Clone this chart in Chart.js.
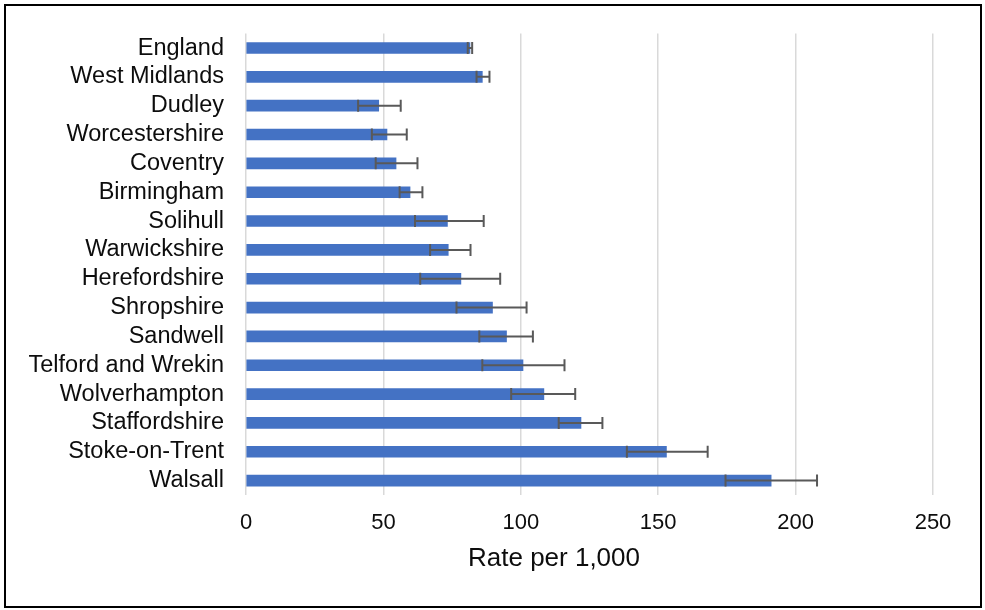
<!DOCTYPE html>
<html>
<head>
    <title>Rate per 1,000 - West Midlands</title>
    <script src="https://cdn.jsdelivr.net/npm/chart.js@4.4.1/dist/chart.umd.min.js"></script>
    <style>
        body {
            margin: 0;
            background: #FFFFFF;
            font-family: "Liberation Sans", Arial, sans-serif;
        }
        #frame {
            position: absolute;
            left: 4px;
            top: 4px;
            width: 978px;
            height: 604px;
            border: 2px solid #000;
            box-sizing: border-box;
        }
        #chart {
            position: absolute;
            left: 0;
            top: 0;
        }
    </style>
</head>
<body>
    <div id="frame"></div>
    <canvas id="chart" width="985" height="610"></canvas>

<script type="text/javascript">
    const areas = ['England', 'West Midlands', 'Dudley', 'Worcestershire', 'Coventry', 'Birmingham',
        'Solihull', 'Warwickshire', 'Herefordshire', 'Shropshire', 'Sandwell', 'Telford and Wrekin',
        'Wolverhampton', 'Staffordshire', 'Stoke-on-Trent', 'Walsall'];
    const rates = [81.5, 86.0, 48.3, 51.3, 54.6, 59.7, 73.3, 73.6, 78.2, 89.7, 94.8, 100.8, 108.4, 121.9, 153.0, 191.1];
    const lowerCI = [80.7, 83.9, 40.8, 45.8, 47.2, 55.9, 61.5, 67.0, 63.4, 76.6, 84.9, 86.0, 96.5, 113.8, 138.6, 174.5];
    const upperCI = [82.3, 88.6, 56.3, 58.5, 62.4, 64.2, 86.5, 81.7, 92.5, 102.1, 104.4, 115.9, 119.8, 129.7, 168.0, 207.8];
    const xTicks = [0, 50, 100, 150, 200, 250];
    const xTitle = 'Rate per 1,000';

    const FONT = '"Liberation Sans", Arial, sans-serif';

    // whiskers for the confidence intervals
    const errorBars = {
        id: 'errorBars',
        afterDatasetsDraw(chart) {
            const ctx = chart.ctx;
            const x = chart.scales.x;
            const meta = chart.getDatasetMeta(0);
            ctx.save();
            ctx.strokeStyle = '#595959';
            ctx.lineWidth = 2;
            meta.data.forEach((bar, i) => {
                let x1 = x.getPixelForValue(lowerCI[i]);
                let x2 = x.getPixelForValue(upperCI[i]);
                let y = bar.y;
                ctx.beginPath();
                ctx.moveTo(x1, y);
                ctx.lineTo(x2, y);
                ctx.moveTo(x1, y - 6);
                ctx.lineTo(x1, y + 6);
                ctx.moveTo(x2, y - 6);
                ctx.lineTo(x2, y + 6);
                ctx.stroke();
            });
            ctx.restore();
        }
    };

    // axis title sits left of the plot centre in the original
    const axisTitle = {
        id: 'axisTitle',
        afterDraw(chart) {
            const ctx = chart.ctx;
            ctx.save();
            ctx.font = '26px ' + FONT;
            ctx.fillStyle = '#0d0d0d';
            ctx.textAlign = 'center';
            ctx.textBaseline = 'middle';
            ctx.fillText(xTitle, 554, 559);
            ctx.restore();
        }
    };

    let chart = new Chart(document.getElementById('chart').getContext('2d'), {
        type: 'bar',
        data: {
            labels: areas,
            datasets: [{
                data: rates,
                backgroundColor: '#4472C4',
                barThickness: 11
            }]
        },
        plugins: [errorBars, axisTitle],
        options: {
            responsive: false,
            animation: false,
            indexAxis: 'y',
            layout: { padding: { top: 33.6, right: 52, left: 0, bottom: 0 } },
            plugins: {
                legend: { display: false },
                tooltip: { enabled: false }
            },
            scales: {
                x: {
                    min: 0,
                    max: 250,
                    afterFit(scale) { scale.height = 115; },
                    afterBuildTicks(scale) { scale.ticks = xTicks.map(v => ({ value: v })); },
                    grid: { color: '#d9d9d9', lineWidth: 1.5, drawTicks: false },
                    border: { display: false },
                    ticks: {
                        padding: 15,
                        color: '#0d0d0d',
                        font: { family: FONT, size: 22 }
                    }
                },
                y: {
                    afterFit(scale) {
                        scale.width = 246;
                        scale.paddingTop = 0;
                        scale.paddingBottom = 0;
                    },
                    grid: { display: false, drawTicks: false },
                    border: { display: false },
                    ticks: {
                        autoSkip: false,
                        padding: 22,
                        color: '#0d0d0d',
                        font: { family: FONT, size: 23.5 }
                    }
                }
            }
        }
    });
</script>

</body>
</html>
